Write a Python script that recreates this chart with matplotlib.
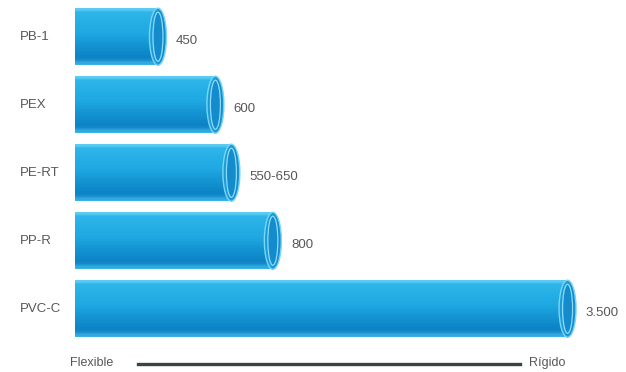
import numpy as np
import matplotlib
matplotlib.use("Agg")
import matplotlib.pyplot as plt
import matplotlib.transforms as mtransforms
from matplotlib.colors import LinearSegmentedColormap
from matplotlib.patches import Ellipse
from matplotlib.lines import Line2D

plt.rcParams["font.family"] = ["Liberation Sans Narrow", "Liberation Sans", "DejaVu Sans"]

# datos (módulo de elasticidad aprox., MPa)
materiales = ["PB-1", "PEX", "PE-RT", "PP-R", "PVC-C"]
valor_min = [450, 600, 550, 800, 3500]
valor_max = [450, 600, 650, 800, 3500]
escala_izq = "Flexible"
escala_der = "Rígido"


def etiqueta(lo, hi):
    fmt = lambda v: f"{v:,}".replace(",", ".")
    return fmt(lo) if lo == hi else f"{fmt(lo)}-{fmt(hi)}"


W, H, DPI = 626, 372, 100
fig = plt.figure(figsize=(W / DPI, H / DPI), dpi=DPI)
ax = fig.add_axes([0, 0, 1, 1])
ax.set_xscale("log")
ax.set_xlim(204, 4690)
ax.set_ylim(4.93, -0.54)
ax.axis("off")

base = 297          # donde empiezan los tubos
alto = 0.84         # grosor del tubo (unidades de categoría)
alto_in = alto * 0.68
n_tiras = 40

# degradado vertical del tubo, de arriba a abajo
tubo = LinearSegmentedColormap.from_list(
    "tubo", [(0.0, "#5ccbf2"), (0.07, "#2db5e9"), (0.45, "#1da6e0"),
             (0.72, "#118ecd"), (0.88, "#0c82c4"), (1.0, "#3ab3e6")])

texto_gris = "#575757"
for i, (nombre, lo, hi) in enumerate(zip(materiales, valor_min, valor_max)):
    h = alto / n_tiras
    for k in range(n_tiras):
        yk = i - alto / 2 + h * (k + 0.5)
        ax.barh(yk, hi - base, left=base, height=h * 1.05,
                color=tubo(k / (n_tiras - 1)), linewidth=0, zorder=2)

    # boca del tubo (extremo derecho)
    tr = fig.dpi_scale_trans + mtransforms.ScaledTranslation(hi, i, ax.transData)
    ax.add_patch(Ellipse((0, 0), 0.17, alto_in, transform=tr,
                         facecolor="#1a9bd9", edgecolor="#7ad6f5", lw=1.0, zorder=3))
    ax.add_patch(Ellipse((0.01, 0), 0.12, alto_in * 0.9, transform=tr,
                         facecolor="#138bcc", edgecolor="none", zorder=4))
    ax.add_patch(Ellipse((0, 0.0), 0.10, alto_in * 0.86, transform=tr,
                         facecolor="none", edgecolor="#8fdcf7", lw=0.9, zorder=5))

    ax.text(0.032, i, nombre, transform=mtransforms.blended_transform_factory(fig.transFigure, ax.transData),
            ha="left", va="center", fontsize=9.5, color=texto_gris)
    ax.annotate(etiqueta(lo, hi), (hi, i), xytext=(13, -3), textcoords="offset points",
                ha="left", va="center", fontsize=9.5, color=texto_gris)

# escala flexible - rígido
y_esc = 1 - 363 / H
fig.text(70 / W, y_esc, escala_izq, ha="left", va="center", fontsize=9, color=texto_gris)
fig.text(529 / W, y_esc, escala_der, ha="left", va="center", fontsize=9, color=texto_gris)
fig.add_artist(Line2D([138 / W, 520 / W], [y_esc - 0.004, y_esc - 0.004],
                      transform=fig.transFigure, color="#3b4540", lw=2.4))

fig.savefig("out.png", dpi=DPI)
